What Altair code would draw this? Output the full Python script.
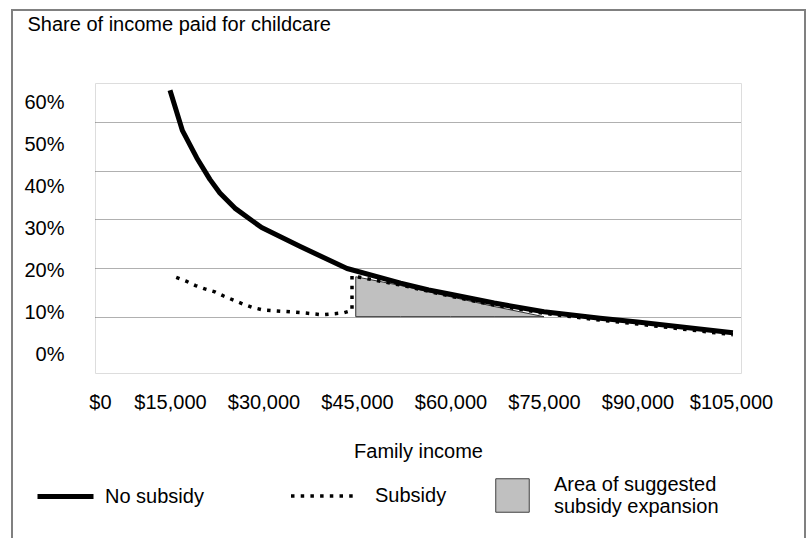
import altair as alt
import pandas as pd

FONT = "Liberation Sans"

# --- data ---
nosub_income = [15000, 17000, 19300, 21400, 23000, 25400, 29700, 35900, 43400,
                52000, 56500, 60000, 67000, 75000, 84000, 90000, 105300]
nosub_share = [56.5, 48.2, 42.6, 38.2, 35.4, 32.3, 28.3, 24.4, 19.9,
               16.9, 15.5, 14.6, 12.8, 11.0, 9.7, 8.9, 6.7]

sub_income = [16000, 17600, 19100, 20600, 22200, 23700, 25200, 26700, 28200,
              29900, 33100, 36300, 37900, 39500, 41300, 42900, 44200, 44200,
              52000, 60000, 67000, 75000, 84000, 90000, 105300]
sub_share = [18.1, 17.3, 16.4, 15.7, 15.1, 14.2, 13.4, 12.6, 11.9,
             11.4, 11.1, 10.8, 10.6, 10.4, 10.6, 10.8, 11.3, 18.4,
             16.5, 14.2, 12.4, 10.7, 9.3, 8.5, 6.3]

area_income = [44800, 52000, 60000, 67000, 75000]
area_top = [18.2, 16.4, 14.1, 12.1, 10.0]
area_base = [10.0, 10.0, 10.0, 10.0, 10.0]

x_ticks = [3770, 15000, 30000, 45000, 60000, 75000, 90000, 105000]
grid_ticks = [10, 20, 30, 40, 50]
y_label_ticks = [0, 10, 20, 30, 40, 50, 60]

S1, S2, S3 = "No subsidy", "Subsidy", "Area of suggested subsidy expansion"

df_nosub = pd.DataFrame({"x": nosub_income, "y": nosub_share, "s1": S1})
df_sub = pd.DataFrame({"x": sub_income, "y": sub_share, "s2": S2,
                       "i": list(range(len(sub_income)))})
df_area = pd.DataFrame({"x": area_income, "y": area_top, "y2": area_base, "s3": S3})
df_lab = pd.DataFrame({"v": y_label_ticks})

x_enc = alt.X("x:Q",
              scale=alt.Scale(domain=[2968, 106604], nice=False, zero=False),
              axis=alt.Axis(values=x_ticks,
                            labelExpr="datum.value < 10000 ? '$0' : '$' + format(datum.value, ',')",
                            ticks=False, tickSize=0, domain=False, grid=False,
                            labelPadding=29, labelBaseline="middle",
                            labelFlush=False, labelOverlap=False,
                            labelFontSize=20, labelFont=FONT, labelColor="black",
                            title="Family income", titleY=78, titleBaseline="middle",
                            titleFontSize=20, titleFont=FONT, titleFontWeight="normal",
                            titleColor="black"))

y_scale = alt.Scale(domain=[-1.56, 57.99], nice=False, zero=False)
y_axis = alt.Axis(values=grid_ticks, grid=True, labels=False, ticks=False, tickSize=0,
                  domain=False, title=None, gridDash=[1, 1], gridColor="#606060",
                  gridWidth=1, orient="left")
y_enc = alt.Y("y:Q", scale=y_scale, axis=y_axis)

area = alt.Chart(df_area).mark_area(stroke="#303030", strokeWidth=1).encode(
    x=x_enc,
    y=y_enc,
    y2="y2:Q",
    fill=alt.Fill("s3:N", scale=alt.Scale(domain=[S3], range=["#c0c0c0"]),
                  legend=alt.Legend(orient="none", legendX=400, legendY=395, title=None,
                                    padding=0, symbolType="square", symbolSize=1122,
                                    symbolStrokeColor="#404040", symbolStrokeWidth=1,
                                    symbolFillColor="#c0c0c0",
                                    labelOffset=24, labelFontSize=20, labelFont=FONT,
                                    labelColor="black", labelLimit=400,
                                    labelBaseline="line-bottom",
                                    labelExpr="['Area of suggested', 'subsidy expansion']")),
)

solid = alt.Chart(df_nosub).mark_line(strokeWidth=5, strokeJoin="round").encode(
    x=x_enc,
    y=y_enc,
    color=alt.Color("s1:N", scale=alt.Scale(domain=[S1], range=["black"]),
                    legend=alt.Legend(orient="none", legendX=-60, legendY=383, title=None,
                                      padding=0, symbolType="stroke", symbolSize=3136,
                                      symbolStrokeWidth=5, symbolStrokeColor="black",
                                      labelOffset=9, labelFontSize=20, labelFont=FONT,
                                      labelColor="black", labelLimit=400)),
)

dotted = alt.Chart(df_sub).mark_line(color="black", strokeWidth=3.5).encode(
    x=x_enc,
    y=y_enc,
    order="i:Q",
    strokeDash=alt.StrokeDash("s2:N", scale=alt.Scale(domain=[S2], range=[[3.5, 6.2]]),
                              legend=alt.Legend(orient="none", legendX=194, legendY=379,
                                                title=None, padding=0, symbolType="stroke",
                                                symbolSize=4096, symbolStrokeWidth=3.5,
                                                symbolStrokeColor="black",
                                                labelOffset=18, labelFontSize=20,
                                                labelFont=FONT, labelColor="black",
                                                labelLimit=400)),
)

frame = alt.Chart(pd.DataFrame({"a": [0]})).mark_rect(
    fillOpacity=0, stroke="#808080", strokeWidth=2).encode(
    x=alt.value(-83), x2=alt.value(710), y=alt.value(-73), y2=alt.value(490))

main = alt.layer(frame, area, solid, dotted)

labels = alt.Chart(df_lab).mark_point(opacity=0).encode(
    y=alt.Y("v:Q", scale=alt.Scale(domain=[-4.29, 64.76], nice=False, zero=False),
            axis=alt.Axis(values=y_label_ticks, labelExpr="datum.value + '%'",
                          orient="left", grid=False, ticks=False, tickSize=0,
                          domain=False, labelPadding=31, labelAlign="right",
                          labelBaseline="middle", labelFontSize=20, labelFont=FONT,
                          labelColor="black",
                          title="Share of income paid for childcare", titleAngle=0,
                          titleX=-68, titleY=-59, titleAlign="left",
                          titleBaseline="middle", titleFontSize=20, titleFont=FONT,
                          titleFontWeight="normal", titleColor="black"))
)

chart = alt.layer(main, labels).resolve_scale(y="independent").resolve_axis(
    y="independent").properties(
    width=646, height=290,
    autosize=alt.AutoSizeParams(type="none"),
    padding={"left": 95, "top": 83, "right": 66, "bottom": 165},
).configure_view(stroke="#404040", strokeWidth=1).configure(background="white")

chart.save("out.html", embed_options={"renderer": "svg", "actions": False})
